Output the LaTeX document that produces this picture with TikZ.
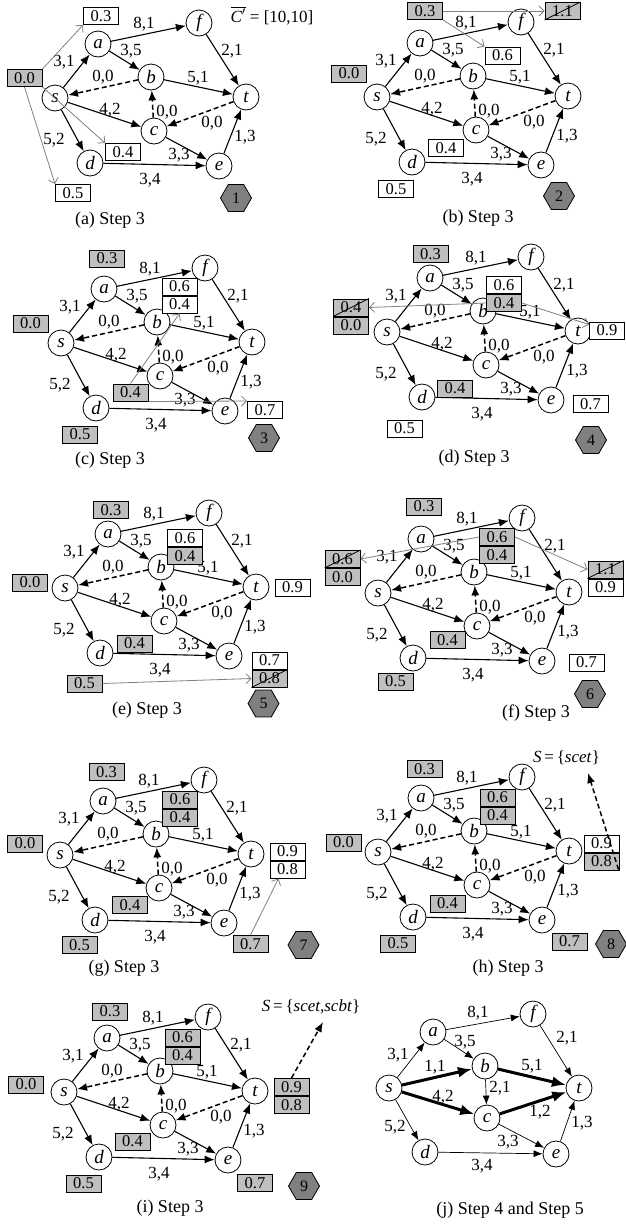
\documentclass[tikz,border=0pt]{standalone}
\usepackage{fontspec}
\setmainfont{Liberation Serif}
\usetikzlibrary{arrows.meta,shapes.geometric,calc}
\definecolor{boxgray}{RGB}{191,191,191}
\definecolor{arrgray}{RGB}{128,128,128}
\definecolor{hexgray}{RGB}{128,128,128}
\tikzset{
 vtx/.style={circle,draw,line width=0.8pt,fill=white,minimum size=26pt,inner sep=0pt,font=\fontsize{19}{19}\selectfont\itshape},
 edge/.style={line width=1.1pt,-{Latex[length=10pt,width=8pt]}},
 dedge/.style={line width=1.5pt,dash pattern=on 5pt off 3pt,-{Latex[length=10pt,width=8pt]}},
 tedge/.style={line width=0.7pt,-{Latex[length=9pt,width=7pt]}},
 kedge/.style={line width=3pt,-{Latex[length=14pt,width=11pt]}},
 lbl/.style={font=\fontsize{17}{17}\selectfont,inner sep=0pt},
 wbox/.style={draw,line width=1pt,fill=white,minimum width=35pt,minimum height=17pt,inner sep=0pt,font=\fontsize{16.5}{16.5}\selectfont},
 gbox/.style={wbox,fill=boxgray},
 garr/.style={draw=arrgray,line width=0.8pt,-{Straight Barb[length=5pt,width=10pt]}},
 hexa/.style={regular polygon,regular polygon sides=6,draw,line width=0.8pt,fill=hexgray,minimum size=31pt,inner sep=0pt,font=\fontsize{16}{16}\selectfont},
 capt/.style={font=\fontsize{18}{18}\selectfont,inner sep=0pt},
 stxt/.style={font=\fontsize{17}{17}\selectfont,inner sep=0pt},
}
\newcommand\basegraph[3]{%
\begin{scope}[shift={(#2,#3)}]
\node[vtx] (#1s) at (0,0) {s};
\node[vtx] (#1a) at (43,-54) {a};
\node[vtx] (#1f) at (144,-75) {f};
\node[vtx] (#1b) at (96,-21) {b};
\node[vtx] (#1t) at (191,-1) {t};
\node[vtx] (#1c) at (99,33) {c};
\node[vtx] (#1e) at (164,68) {e};
\node[vtx] (#1d) at (35,65) {d};
\draw[edge] (#1s) -- (#1a);
\draw[edge] (#1a) -- (#1f);
\draw[edge] (#1a) -- (#1b);
\draw[dedge] (#1b) -- (#1s);
\draw[edge] (#1b) -- (#1t);
\draw[edge] (#1f) -- (#1t);
\draw[edge] (#1s) -- (#1c);
\draw[dedge] (#1c) -- (#1b);
\draw[dedge] (#1t) -- (#1c);
\draw[edge] (#1e) -- (#1t);
\draw[edge] (#1s) -- (#1d);
\draw[edge] (#1c) -- (#1e);
\draw[edge] (#1d) -- (#1e);
\node[lbl] (#1l1) at (9,-36) {3,1};
\node[lbl] (#1l2) at (89,-74) {8,1};
\node[lbl] (#1l3) at (76,-47) {3,5};
\node[lbl] (#1l4) at (48,-21) {0,0};
\node[lbl] (#1l5) at (143,-20) {5,1};
\node[lbl] (#1l6) at (177,-47) {2,1};
\node[lbl] (#1l7) at (55,12) {4,2};
\node[lbl] (#1l8) at (112,14) {0,0};
\node[lbl] (#1l9) at (157,25) {0,0};
\node[lbl] (#1l10) at (190,39) {1,3};
\node[lbl] (#1l11) at (-1,42) {5,2};
\node[lbl] (#1l12) at (124,57) {3,3};
\node[lbl] (#1l13) at (95,82) {3,4};
\end{scope}}
\newcommand\strike[1]{\draw[line width=0.8pt] (#1.south west) -- (#1.north east);}
\begin{document}
\begin{tikzpicture}[x=1pt,y=-1pt]
\useasboundingbox (0,0) rectangle (625,1227);
% ---------- (a)
\basegraph{A}{55}{98}
\node[gbox] (A00) at (24.5,78) {0.0};
\node[wbox] (A03) at (101,16) {0.3};
\node[wbox] (A04) at (123,152) {0.4};
\node[wbox] (A05) at (73,193) {0.5};
\draw[garr] (A00.north east) -- (A03.south west);
\draw[garr] (A00.south east) -- (A04.north west);
\draw[garr] (A00.south) -- (A05.north west);
\node[hexa] (Ahex) at (236,198) {1};
\node[stxt] (Acp) at (272,16) {$\overline{\textit{C}'}$ = [10,10]};
\node[capt] (Acap) at (110,220) {(a) Step 3};
% ---------- (b)
\basegraph{B}{377}{97}
\node[gbox] (B03) at (425,11) {0.3};
\node[gbox] (B11) at (562.5,11) {1.1};
\strike{B11}
\node[wbox] (B06) at (502.5,55.5) {0.6};
\node[gbox] (B00) at (349,73.5) {0.0};
\node[wbox] (B04) at (446,148) {0.4};
\node[wbox] (B05) at (396,189) {0.5};
\draw[garr] (B03.east) -- (B11.west);
\draw[garr] (B03.south east) -- (B06.north west);
\node[hexa] (Bhex) at (559,196) {2};
\node[capt] (Bcap) at (478,218) {(b) Step 3};
% ---------- (c)
\basegraph{C}{61}{343}
\node[gbox] (C03) at (107,258.5) {0.3};
\node[wbox] (C06) at (179.5,286.5) {0.6};
\node[wbox,anchor=north] (C04b) at (C06.south) {0.4};
\node[gbox] (C00) at (30.5,323.5) {0.0};
\node[gbox] (C04) at (130.5,392.5) {0.4};
\node[wbox] (C07) at (265,410) {0.7};
\node[gbox] (C05) at (80,434.5) {0.5};
\draw[garr] (C04.north) -- (C04b.south);
\draw[garr] (C04.south east) -- (C07.north west);
\node[hexa] (Chex) at (264,438) {3};
\node[capt] (Ccap) at (110,460) {(c) Step 3};
% ---------- (d)
\basegraph{D}{387}{332}
\node[gbox] (D03) at (430.5,254) {0.3};
\node[wbox] (D06) at (504,285) {0.6};
\node[gbox,anchor=north] (D04b) at (D06.south) {0.4};
\node[gbox] (D04L) at (351,307.5) {0.4};
\strike{D04L}
\node[gbox,anchor=north] (D00) at (D04L.south) {0.0};
\node[wbox] (D09) at (607,330.5) {0.9};
\node[gbox] (D04) at (455,388.5) {0.4};
\node[wbox] (D07) at (590.5,404) {0.7};
\node[wbox] (D05) at (404.5,428.5) {0.5};
\draw[garr] (D04b.west) -- (D04L.east);
\coordinate (D09in) at ($(D09.north west)+(0,3)$);
\draw[garr] (D04b.east) -- (D09in);
\node[hexa] (Dhex) at (591,440) {4};
\node[capt] (Dcap) at (474,458) {(d) Step 3};
% ---------- (e)
\basegraph{E}{65}{588}
\node[gbox] (E03) at (111,510) {0.3};
\node[wbox] (E06) at (185,538) {0.6};
\node[gbox,anchor=north] (E04b) at (E06.south) {0.4};
\node[gbox] (E00) at (30,582.5) {0.0};
\node[wbox] (E09) at (292.5,587.5) {0.9};
\node[gbox] (E04) at (134.5,643.5) {0.4};
\node[wbox] (E07) at (269.5,660.5) {0.7};
\node[gbox,anchor=north] (E08) at (E07.south) {0.8};
\strike{E08}
\node[gbox] (E05) at (84.5,683.5) {0.5};
\draw[garr] (E05.east) -- (E08.west);
\node[hexa] (Ehex) at (263.5,703.5) {5};
\node[capt] (Ecap) at (147,710) {(e) Step 3};
% ---------- (f)
\basegraph{F}{378}{593}
\node[gbox] (F03) at (424,506.5) {0.3};
\node[gbox] (F06) at (497,537) {0.6};
\node[gbox,anchor=north] (F04b) at (F06.south) {0.4};
\node[gbox] (F06L) at (342.5,559) {0.6};
\strike{F06L}
\node[gbox,anchor=north] (F00) at (F06L.south) {0.0};
\node[gbox] (F11) at (605.5,569.5) {1.1};
\strike{F11}
\node[wbox,anchor=north] (F09) at (F11.south) {0.9};
\node[gbox] (F04) at (447.5,640) {0.4};
\node[wbox] (F07) at (586.5,662.5) {0.7};
\node[gbox] (F05) at (395.5,681.5) {0.5};
\draw[garr] (F06.west) -- (F06L.east);
\draw[garr] (F06.east) -- (F11.west);
\node[hexa] (Fhex) at (590,694) {6};
\node[capt] (Fcap) at (536,713) {(f) Step 3};
% ---------- (g)
\basegraph{G}{60}{855}
\node[gbox] (G03) at (106.5,772) {0.3};
\node[gbox] (G06) at (180,799.5) {0.6};
\node[gbox,anchor=north] (G04b) at (G06.south) {0.4};
\node[gbox] (G00) at (25,843.5) {0.0};
\node[wbox] (G09) at (287.5,851.5) {0.9};
\node[wbox,anchor=north] (G08) at (G09.south) {0.8};
\node[gbox] (G04) at (130,905) {0.4};
\node[gbox] (G05) at (79.5,945) {0.5};
\node[gbox] (G07) at (250.5,944) {0.7};
\coordinate (G08in) at ($(G08.south)+(-9,0)$);
\draw[garr] (G07.north) -- (G08in);
\node[hexa] (Ghex) at (303.5,945) {7};
\node[capt] (Gcap) at (124,968) {(g) Step 3};
% ---------- (h)
\basegraph{H}{378}{852}
\node[gbox] (H03) at (424.5,769) {0.3};
\node[stxt] (HS) at (566.5,758) {\textit{S}\,=\,\{\textit{scet}\}};
\node[gbox] (H06) at (497.5,797.5) {0.6};
\node[gbox,anchor=north] (H04b) at (H06.south) {0.4};
\node[gbox] (H00) at (343.5,842.5) {0.0};
\node[wbox] (H09) at (601.5,843.5) {0.9};
\node[gbox,anchor=north] (H08) at (H09.south) {0.8};
\node[gbox] (H04) at (447.5,903.5) {0.4};
\node[gbox] (H05) at (398,943.5) {0.5};
\node[gbox] (H07) at (569.5,941.5) {0.7};
\coordinate (Hfrom) at ($(H08.south east)+(-1,-1)$);
\coordinate (Htip) at (588,773);
\draw[dedge] (Hfrom) -- (Htip);
\node[hexa] (Hhex) at (611,944) {8};
\node[capt] (Hcap) at (508,968) {(h) Step 3};
% ---------- (i)
\basegraph{I}{64}{1092}
\node[gbox] (I03) at (110,1011.5) {0.3};
\node[stxt] (IS) at (311,1007) {\textit{S}\,=\,\{\textit{scet},\textit{scbt}\}};
\node[gbox] (I06) at (182.5,1037.5) {0.6};
\node[gbox,anchor=north] (I04b) at (I06.south) {0.4};
\node[gbox] (I00) at (26,1084.5) {0.0};
\node[gbox] (I09) at (291.5,1087) {0.9};
\node[gbox,anchor=north] (I08) at (I09.south) {0.8};
\node[gbox] (I04) at (132.5,1141.5) {0.4};
\node[gbox] (I05) at (83.5,1183.5) {0.5};
\node[gbox] (I07) at (255,1183) {0.7};
\coordinate (Itip) at (323,1022);
\draw[dedge] (I09.north) -- (Itip);
\node[hexa] (Ihex) at (304,1186) {9};
\node[capt] (Icap) at (170,1208) {(i) Step 3};
% ---------- (j)
\begin{scope}[shift={(389,1088)}]
\node[vtx] (Js) at (0,0) {s};
\node[vtx] (Ja) at (44,-56) {a};
\node[vtx] (Jf) at (144,-74) {f};
\node[vtx] (Jb) at (96,-22) {b};
\node[vtx] (Jt) at (190,0) {t};
\node[vtx] (Jc) at (98,30) {c};
\node[vtx] (Je) at (167,66) {e};
\node[vtx] (Jd) at (36,64) {d};
\draw[tedge] (Js) -- (Ja);
\draw[tedge] (Ja) -- (Jf);
\draw[tedge] (Ja) -- (Jb);
\draw[tedge] (Jf) -- (Jt);
\draw[tedge] (Jb) -- (Jc);
\draw[tedge] (Je) -- (Jt);
\draw[tedge] (Js) -- (Jd);
\draw[tedge] (Jc) -- (Je);
\draw[tedge] (Jd) -- (Je);
\draw[kedge] (Js) -- (Jb);
\draw[kedge] (Jb) -- (Jt);
\draw[kedge] (Js) -- (Jc);
\draw[kedge] (Jc) -- (Jt);
\node[lbl] (Jl1) at (9,-33) {3,1};
\node[lbl] (Jl2) at (46,-21) {1,1};
\node[lbl] (Jl3) at (89,-75) {8,1};
\node[lbl] (Jl4) at (76,-46) {3,5};
\node[lbl] (Jl5) at (143,-22) {5,1};
\node[lbl] (Jl6) at (178,-50) {2,1};
\node[lbl] (Jl7) at (111,0) {2,1};
\node[lbl] (Jl8) at (54,9) {4,2};
\node[lbl] (Jl9) at (151,24) {1,2};
\node[lbl] (Jl10) at (193,35) {1,3};
\node[lbl] (Jl11) at (6,39) {5,2};
\node[lbl] (Jl12) at (119,54) {3,3};
\node[lbl] (Jl13) at (93,78) {3,4};
\end{scope}
\node[capt] (Jcap) at (510,1210) {(j) Step 4 and Step 5};
\end{tikzpicture}
\end{document}
